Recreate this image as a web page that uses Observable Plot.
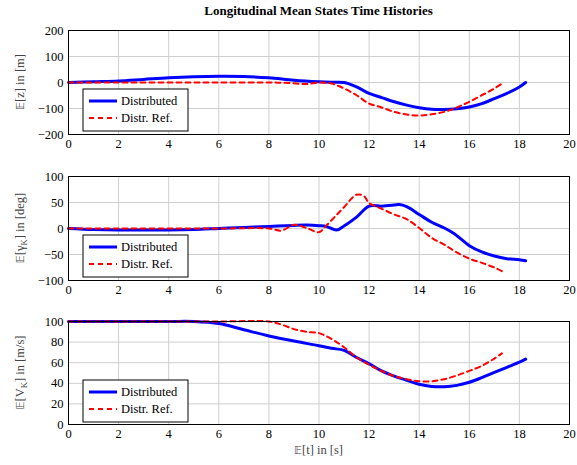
<!DOCTYPE html>
<html>
<head>
<meta charset="utf-8">
<script src="https://cdn.jsdelivr.net/npm/d3@7"></script>
<script src="https://cdn.jsdelivr.net/npm/@observablehq/plot@0.6"></script>
<style>
  body { margin: 0; background: #fff; }
  #wrap { position: relative; width: 577px; height: 465px; font-family: "Liberation Serif", serif; }
  #title { position: absolute; top: 3px; left: 68px; width: 501px; text-align: center; font-weight: bold; font-size: 13px; color: #000; }
  #xlabel { position: absolute; top: 443px; left: 68px; width: 501px; text-align: center; font-size: 12.5px; color: #444; }
  svg text, svg tspan { font-family: "Liberation Serif", serif !important; }
  svg tspan.bb, span.bb { font-family: "DejaVu Sans", sans-serif !important; font-size: 11px; }
</style>
</head>
<body>
<div id="wrap">
  <div id="title">Longitudinal Mean States Time Histories</div>
  <div id="xlabel"><span class="bb">𝔼</span>[t] in [s]</div>
</div>
<script>
// ---------- data ----------
const seriesNames = ["Distributed", "Distr. Ref."];
const xTicks = [0, 2, 4, 6, 8, 10, 12, 14, 16, 18, 20];

// Panel 1: E[z] in [m]
const zDistT = [0,1,2,3,4,5,6,7,8,9,10,10.5,11,11.5,12,12.5,13,13.5,14,14.5,15,15.5,16,16.5,17,17.5,18,18.25];
const zDistV = [0,3,6,12,18,22,24,23,18,9,3,1,0,-17,-42,-58,-74,-87,-97,-103,-104,-101,-94,-81,-62,-42,-17,0];
const zRefT  = [0,2,4,6,8,8.5,9,9.5,10,10.5,11,11.5,12,12.5,13,13.5,14,14.5,15,15.5,16,16.5,17,17.3];
const zRefV  = [0,0,0,0,0,-1,-3,-6,0,-4,-23,-49,-81,-96,-113,-123,-127,-122,-113,-96,-74,-49,-23,-4];
const zTicks = [-200, -100, 0, 100, 200];

// Panel 2: E[gamma_K] in [deg]
const gDistT = [0,1,2,3,4,5,6,7,8,9,9.5,10,10.3,10.7,11,11.5,12,12.5,13,13.2,13.5,14,14.5,15,15.4,16,16.5,17,17.5,18,18.25];
const gDistV = [0,-2,-3,-3,-3,-2,0,2,4,6,6.5,5.5,4,-3,5,22,43,43,45,46,42,27,12,1,-10,-33,-45,-53,-58,-60,-62];
const gRefT  = [0,2,4,6,8,8.5,9,9.5,10,10.3,10.7,11,11.5,11.8,12,12.5,13,13.5,14,14.5,15,15.5,16,16.5,17,17.3];
const gRefV  = [0,0,0,0,0,-4,7,1,-7,6,26,41,65,62,49,38,27,18,1,-18,-31,-46,-58,-66,-75,-82];
const gTicks = [-100, -50, 0, 50, 100];

// Panel 3: E[V_K] in [m/s]
const vDistT = [0,2,4,5,6,7,8,9,10,10.5,11,11.5,12,12.5,13,13.5,14,14.5,15,15.5,16,16.5,17,17.5,18,18.25];
const vDistV = [100,100,100,100,98,92,86,81,76.5,74,72,65,59,52,47,43,39,37,36.7,38,41,45.5,50.5,55.5,60.5,63.5];
const vRefT  = [0,2,4,6,8,8.5,9,9.5,10,10.5,11,11.5,12,12.5,13,13.5,14,14.5,15,15.5,16,16.5,17,17.3];
const vRefV  = [100,100,100,100,100,97,92.6,90,88.7,83,75,65,58,52,47,44,42,42,44,47.6,52,57,64,69];
const vTicks = [0, 20, 40, 60, 80, 100];

// ---------- helpers ----------
const toRows = (ts, vs) => ts.map((t, i) => ({t, v: vs[i]}));

function panel({top, frameH, yDomain, yTicks, distT, distV, refT, refV, labelParts}) {
  const mt = 10, mb = 22;
  const svg = Plot.plot({
    width: 577,
    height: mt + frameH + mb,
    marginLeft: 68,
    marginRight: 8,
    marginTop: mt,
    marginBottom: mb,
    style: {fontFamily: "Liberation Serif", fontSize: "12.5px", color: "#000", background: "transparent", overflow: "visible"},
    x: {domain: [0, 20]},
    y: {domain: yDomain},
    marks: [
      Plot.gridX(xTicks, {stroke: "#cfcfcf", strokeOpacity: 1, strokeWidth: 1}),
      Plot.gridY(yTicks, {stroke: "#cfcfcf", strokeOpacity: 1, strokeWidth: 1}),
      Plot.line(toRows(distT, distV), {x: "t", y: "v", stroke: "#0000ff", strokeWidth: 3, curve: "catmull-rom"}),
      Plot.line(toRows(refT, refV), {x: "t", y: "v", stroke: "#ff0000", strokeWidth: 2, strokeDasharray: "5,4", curve: "catmull-rom"}),
      Plot.frame({stroke: "#000", strokeWidth: 1}),
      Plot.axisX(xTicks, {tickSize: 0, tickPadding: 5, label: null, fontSize: 12.5}),
      Plot.axisY(yTicks, {tickSize: 0, tickPadding: 5, label: null, fontSize: 12.5})
    ]
  });
  svg.style.position = "absolute";
  svg.style.top = top + "px";
  svg.style.left = "0px";
  const s = d3.select(svg);

  // y axis label (rotated)
  const cy = mt + frameH / 2;
  const lab = s.append("text")
    .attr("transform", `translate(20,${cy}) rotate(-90)`)
    .attr("text-anchor", "middle")
    .attr("dy", "0.35em")
    .attr("fill", "#444")
    .attr("font-size", 12.5);
  labelParts.forEach(p => {
    const ts = lab.append("tspan").text(p.text);
    if (p.sans) ts.attr("class", "bb");
    if (p.sub) ts.attr("font-size", 8.5).attr("dy", 3);
    if (p.after) ts.attr("dy", -3);
  });

  // legend box
  const lx = 83, ly = mt + 59, lw = 105, lh = 42;
  const g = s.append("g");
  g.append("rect").attr("x", lx).attr("y", ly).attr("width", lw).attr("height", lh)
    .attr("fill", "#fff").attr("stroke", "#000").attr("stroke-width", 1);
  const rows = [
    {name: seriesNames[0], stroke: "#0000ff", w: 3, dash: null},
    {name: seriesNames[1], stroke: "#ff0000", w: 2, dash: "5,4"}
  ];
  rows.forEach((r, i) => {
    const yy = ly + 12 + i * 17;
    const ln = g.append("line").attr("x1", lx + 6).attr("x2", lx + 34).attr("y1", yy).attr("y2", yy)
      .attr("stroke", r.stroke).attr("stroke-width", r.w);
    if (r.dash) ln.attr("stroke-dasharray", r.dash);
    g.append("text").attr("x", lx + 38).attr("y", yy).attr("dy", "0.35em")
      .attr("text-anchor", "start")
      .attr("font-size", 12.5).attr("fill", "#000")
      .text(r.name);
  });

  document.getElementById("wrap").appendChild(svg);
}

panel({top: 20, frameH: 104, yDomain: [-200, 200], yTicks: zTicks, distT: zDistT, distV: zDistV, refT: zRefT, refV: zRefV,
  labelParts: [{text: "𝔼", sans: true}, {text: "[z] in [m]"}]});
panel({top: 166, frameH: 104, yDomain: [-100, 100], yTicks: gTicks, distT: gDistT, distV: gDistV, refT: gRefT, refV: gRefV,
  labelParts: [{text: "𝔼", sans: true}, {text: "[γ"}, {text: "K", sub: true}, {text: "] in [deg]", after: true}]});
panel({top: 311, frameH: 103, yDomain: [0, 100], yTicks: vTicks, distT: vDistT, distV: vDistV, refT: vRefT, refV: vRefV,
  labelParts: [{text: "𝔼", sans: true}, {text: "[V"}, {text: "K", sub: true}, {text: "] in [m/s]", after: true}]});
</script>
</body>
</html>
